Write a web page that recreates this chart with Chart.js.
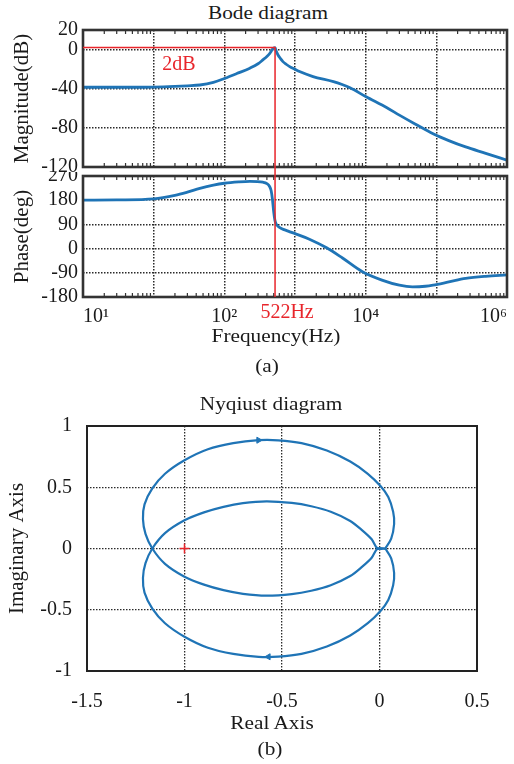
<!DOCTYPE html>
<html>
<head>
<meta charset="utf-8">
<script src="https://cdn.jsdelivr.net/npm/chart.js@4.4.1/dist/chart.umd.min.js"></script>
<style>
  body { margin: 0; background: #fff; width: 514px; height: 764px; position: relative; overflow: hidden; font-family: "Liberation Serif", "Times New Roman", serif; color: #1a1a1a; }
  canvas { position: absolute; left: 0; }
  .t { position: absolute; font-size: 19px; line-height: 1; white-space: nowrap; transform: translateX(-50%) scaleX(1.12); }
</style>
</head>
<body>
<div class="t" style="left:268px;top:3px">Bode diagram</div>
<canvas id="mag" width="514" height="172" style="top:0"></canvas>
<canvas id="pha" width="514" height="182" style="top:172px"></canvas>
<div class="t" style="left:276px;top:326px">Frequency(Hz)</div>
<div class="t" style="left:267px;top:356px">(a)</div>
<div class="t" style="left:271px;top:394px">Nyqiust diagram</div>
<canvas id="nyq" width="514" height="300" style="top:415px"></canvas>
<div class="t" style="left:272px;top:713px">Real Axis</div>
<div class="t" style="left:270px;top:739px">(b)</div>
<script>
// Bode / Nyquist figure
const blue = '#1f74b6', red = '#e8252b', ink = '#1a1a1a', gridCol = '#2a2a2a';
Chart.defaults.font.family = '"Liberation Serif","Times New Roman",serif';
Chart.defaults.font.size = 20;
Chart.defaults.color = ink;

// frequency axis (Hz), labels as printed on the figure
const decades = [1, 10, 100, 1000, 10000, 100000, 1000000];
const freqLabels = ['10¹', '', '10²', '', '10⁴', '', '10⁶'];

// magnitude curve
const magTicks = [-120, -80, -40, 0, 20];
const magFreq = [1, 5, 10, 20, 30, 45, 70, 100, 150, 230, 300, 350, 400, 440, 490, 522, 545, 575, 620, 675,
  750, 840, 1000, 1160, 1800, 3500, 6000, 10000, 20000, 30000, 50000, 90000, 150000, 260000, 500000, 1000000];
const magDb = [-38.5, -38.5, -38.3, -37.6, -37.0, -36.2, -33.5, -29.5, -24.5, -19, -14.5, -10.6, -7, -3.8, 1.0, 2, -2, -5.5, -9, -12.3,
  -15, -17.4, -20.2, -22.5, -27.6, -32.8, -39, -48, -59.5, -67, -76, -86, -93, -99.5, -106, -113];

// phase curve
const phaseTicks = [-180, -90, 0, 90, 180, 270];
const phaseFreq = [1, 3, 10, 20, 30, 45, 70, 100, 160, 230, 350, 400, 437, 460, 478, 500, 520, 543, 580, 640,
  800, 1040, 1600, 2800, 4700, 9000, 17000, 30000, 46000, 70000, 90000, 150000, 260000, 500000, 1000000];
const phaseDeg = [180, 181, 185, 198, 210, 224, 236, 243, 248, 250, 247, 242, 231, 215, 186, 136, 105, 91, 82, 75,
  65, 54, 35, 3, -35, -86, -117, -136, -142, -140, -136, -124, -111, -103, -98];

// resonance marker
const peakFreq = 522, peakDb = 2;

// Nyquist: positive-frequency branch
const nyqRePos = [0.03, -0.01, -0.04, -0.09, -0.15, -0.25, -0.35, -0.45, -0.58, -0.70, -0.80, -0.90, -1.00, -1.10, -1.165,
  -1.20, -1.213, -1.205, -1.165, -1.10, -1.00, -0.88, -0.75, -0.62, -0.52, -0.40, -0.27, -0.15, -0.06, 0.005, 0.045, 0.07, 0.075, 0.06, 0.03];
const nyqImPos = [0, 0, -0.075, -0.15, -0.225, -0.30, -0.345, -0.372, -0.385, -0.37, -0.34, -0.295, -0.23, -0.125, 0,
  0.12, 0.24, 0.36, 0.49, 0.61, 0.72, 0.81, 0.86, 0.884, 0.883, 0.86, 0.80, 0.71, 0.61, 0.51, 0.42, 0.30, 0.20, 0.08, 0];
// negative-frequency branch (mirror)
const nyqReNeg = [0.03, -0.01, -0.04, -0.09, -0.15, -0.25, -0.35, -0.45, -0.58, -0.70, -0.80, -0.90, -1.00, -1.10, -1.165,
  -1.20, -1.213, -1.205, -1.165, -1.10, -1.00, -0.88, -0.75, -0.62, -0.52, -0.40, -0.27, -0.15, -0.06, 0.005, 0.045, 0.07, 0.075, 0.06, 0.03];
const nyqImNeg = [0, 0, 0.075, 0.15, 0.225, 0.30, 0.345, 0.372, 0.385, 0.37, 0.34, 0.295, 0.23, 0.125, 0,
  -0.12, -0.24, -0.36, -0.49, -0.61, -0.72, -0.81, -0.86, -0.884, -0.883, -0.86, -0.80, -0.71, -0.61, -0.51, -0.42, -0.30, -0.20, -0.08, 0];
const arrowRe = [-0.62, -0.57], arrowIm = [0.884, -0.884], arrowRot = [90, -90];
const critRe = [-1], critIm = [0];
const nyqXTicks = [-1.5, -1, -0.5, 0, 0.5], nyqXLabels = ['-1.5', '-1', '-0.5', '0', '0.5'];
const nyqYTicks = [-1, -0.5, 0, 0.5, 1], nyqYLabels = ['-1', '-0.5', '0', '0.5', '1'];

const pts = (xs, ys) => xs.map((x, i) => ({ x, y: ys[i] }));
const setTicks = vals => s => { s.ticks = vals.map(v => ({ value: v })); };
// fixed axis size, and no extra room for labels overhanging the plot edges
const fixSize = (prop, px) => s => {
  s[prop] = px;
  s.paddingTop = 0; s.paddingBottom = 0; s.paddingLeft = 0; s.paddingRight = 0;
};

const frame = {
  id: 'frame',
  afterDatasetsDraw(chart, args, o) {
    const { ctx, chartArea: a } = chart;
    ctx.save();
    ctx.strokeStyle = o.color; ctx.lineWidth = o.width;
    ctx.strokeRect(a.left, a.top, a.right - a.left, a.bottom - a.top);
    if (o.minor) {
      const x = chart.scales.x;
      ctx.lineWidth = 1.2; ctx.beginPath();
      for (let d = 1; d < 1e6; d *= 10) for (let m = 2; m < 10; m++) {
        const px = x.getPixelForValue(d * m);
        ctx.moveTo(px, a.top); ctx.lineTo(px, a.top + 4);
        ctx.moveTo(px, a.bottom); ctx.lineTo(px, a.bottom - 4);
      }
      ctx.stroke();
    }
    ctx.restore();
  }
};

const peakMark = {
  id: 'peakMark',
  afterDraw(chart, args, o) {
    const { ctx, chartArea: a, scales: { x, y } } = chart;
    const px = x.getPixelForValue(peakFreq);
    ctx.save();
    ctx.strokeStyle = red; ctx.fillStyle = red; ctx.lineWidth = 1.5;
    ctx.font = '20px "Liberation Serif", serif'; ctx.textAlign = 'center';
    ctx.beginPath();
    if (o.part === 'mag') {
      const py = y.getPixelForValue(peakDb);
      ctx.moveTo(a.left, py); ctx.lineTo(px, py); ctx.lineTo(px, chart.height);
      ctx.stroke();
      ctx.fillText(peakDb + 'dB', (a.left + px) / 2, py + 22);
    } else {
      ctx.moveTo(px, 0); ctx.lineTo(px, a.bottom);
      ctx.stroke();
      ctx.fillText(peakFreq + 'Hz', px + 12, a.bottom + 21);
    }
    ctx.restore();
  }
};

const dotted = { display: false, dash: [1.5, 1.5] };
const base = {
  responsive: false, animation: false, events: [],
  plugins: { legend: { display: false }, tooltip: { enabled: false } }
};

function freqAxis(showLabels) {
  return {
    type: 'logarithmic', min: 1, max: 1e6,
    afterBuildTicks: setTicks(decades),
    ticks: { display: showLabels, autoSkip: false, maxRotation: 0, align: 'inner', padding: 8, callback: (v, i) => freqLabels[i] },
    grid: { color: gridCol, lineWidth: 1.5, drawTicks: false },
    border: dotted,
    afterFit: fixSize('height', showLabels ? 57 : 0)
  };
}

new Chart(document.getElementById('mag'), {
  type: 'scatter',
  data: { datasets: [{ data: pts(magFreq, magDb), showLine: true, borderColor: blue, borderWidth: 2.8, pointRadius: 0, cubicInterpolationMode: 'monotone' }] },
  options: {
    ...base,
    layout: { padding: { top: 30, right: 7, bottom: 5, left: 0 } },
    plugins: { ...base.plugins, frame: { color: '#333', width: 2.6, minor: true }, peakMark: { part: 'mag' } },
    scales: {
      x: freqAxis(false),
      y: {
        min: -120, max: 20, afterBuildTicks: setTicks(magTicks),
        ticks: { padding: 5, autoSkip: false },
        grid: { color: gridCol, lineWidth: 1.5, drawTicks: false }, border: dotted,
        title: { display: true, text: 'Magnitude(dB)', font: { size: 21 }, padding: { top: 10, bottom: 0 } },
        afterFit: fixSize('width', 83)
      }
    }
  },
  plugins: [frame, peakMark]
});

new Chart(document.getElementById('pha'), {
  type: 'scatter',
  data: { datasets: [{ data: pts(phaseFreq, phaseDeg), showLine: true, borderColor: blue, borderWidth: 2.8, pointRadius: 0, cubicInterpolationMode: 'monotone' }] },
  options: {
    ...base,
    layout: { padding: { top: 4, right: 7, bottom: 0, left: 0 } },
    plugins: { ...base.plugins, frame: { color: '#333', width: 2.6, minor: true }, peakMark: { part: 'pha' } },
    scales: {
      x: freqAxis(true),
      y: {
        min: -180, max: 270, afterBuildTicks: setTicks(phaseTicks),
        ticks: { padding: 5, autoSkip: false },
        grid: { color: gridCol, lineWidth: 1.5, drawTicks: false }, border: dotted,
        title: { display: true, text: 'Phase(deg)', font: { size: 21 }, padding: { top: 10, bottom: 0 } },
        afterFit: fixSize('width', 83)
      }
    }
  },
  plugins: [frame, peakMark]
});

new Chart(document.getElementById('nyq'), {
  type: 'scatter',
  data: {
    datasets: [
      { data: pts(nyqRePos, nyqImPos), showLine: true, borderColor: blue, borderWidth: 2.2, pointRadius: 0, tension: 0.3 },
      { data: pts(nyqReNeg, nyqImNeg), showLine: true, borderColor: blue, borderWidth: 2.2, pointRadius: 0, tension: 0.3 },
      { data: pts(arrowRe, arrowIm), pointStyle: 'triangle', rotation: arrowRot, pointRadius: 3.5, backgroundColor: blue, borderColor: blue },
      { data: pts(critRe, critIm), pointStyle: 'cross', pointRadius: 5, borderColor: red, borderWidth: 1.5 }
    ]
  },
  options: {
    ...base,
    layout: { padding: { top: 11, right: 37, bottom: 0, left: 0 } },
    plugins: { ...base.plugins, frame: { color: '#222', width: 2 } },
    scales: {
      x: {
        min: -1.5, max: 0.5, afterBuildTicks: setTicks(nyqXTicks),
        ticks: { padding: 19, autoSkip: false, maxRotation: 0, callback: (v, i) => nyqXLabels[i] },
        grid: { color: gridCol, lineWidth: 1.3, drawTicks: false }, border: dotted,
        afterFit: fixSize('height', 44)
      },
      y: {
        min: -1, max: 1, afterBuildTicks: setTicks(nyqYTicks),
        ticks: { padding: 15, autoSkip: false, callback: (v, i) => nyqYLabels[i] },
        grid: { color: gridCol, lineWidth: 1.3, drawTicks: false }, border: dotted,
        title: { display: true, text: 'Imaginary Axis', font: { size: 21 }, padding: { top: 5, bottom: 0 } },
        afterFit: fixSize('width', 87)
      }
    }
  },
  plugins: [frame]
});
</script>
</body>
</html>
